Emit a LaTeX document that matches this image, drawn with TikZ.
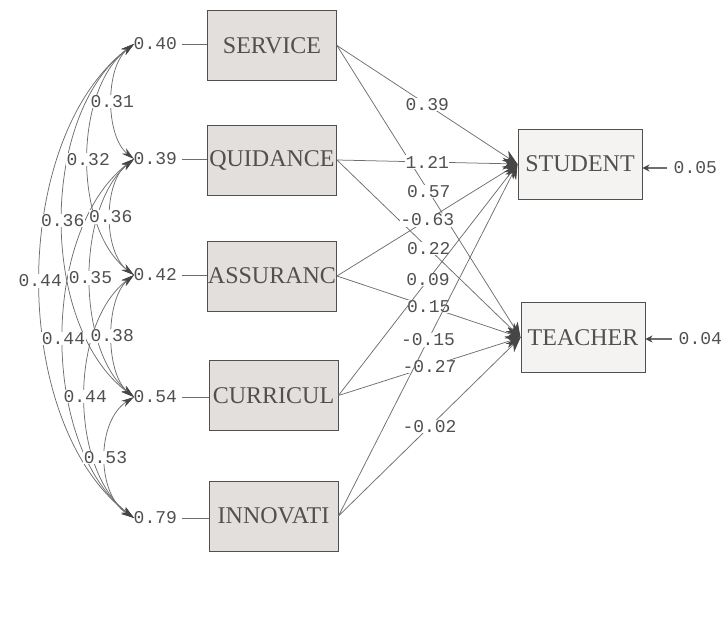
\documentclass[tikz,border=0pt]{standalone}
\usepackage{fontspec}
\setmainfont{Liberation Serif}
\newfontfamily\monofont{Liberation Mono}
\usetikzlibrary{arrows.meta}
\definecolor{ink}{RGB}{80,80,80}
\definecolor{tipc}{RGB}{70,70,70}
\definecolor{boxfill}{RGB}{226,223,220}
\definecolor{boxfillb}{RGB}{245,243,241}
\definecolor{linec}{RGB}{110,110,110}
\begin{document}
\begin{tikzpicture}[x=1pt,y=-1pt,
  var/.style={draw=ink, fill=boxfill, minimum width=129pt, minimum height=70pt, inner sep=0pt,
              font=\fontsize{24}{24}\selectfont, text=ink, line width=0.9pt},
  endo/.style={var, fill=boxfillb, minimum width=124pt},
  num/.style={font=\monofont\fontsize{18}{18}\selectfont, text=ink, inner sep=0.5pt},
  numw/.style={num, fill=white},
  conn/.style={draw=linec, line width=0.75pt},
  pth/.style={conn, -{Stealth[length=15pt,width=12pt,color=tipc]}},
  cov/.style={conn, {Stealth[length=13pt,width=7pt,color=tipc]}-{Stealth[length=13pt,width=7pt,color=tipc]}},
  errarr/.style={conn, line width=1.4pt, -{Stealth[length=7pt,width=7pt,color=tipc]}},
]
\useasboundingbox (0,0) rectangle (728,618);

% variables
\node[var] (serv) at (272,45.5) {SERVICE};
\node[var] (quid) at (272,160) {QUIDANCE};
\node[var] (assu) at (272,276) {ASSURANC};
\node[var] (curr) at (273.5,395.5) {CURRICUL};
\node[var] (inno) at (273.5,516) {INNOVATI};
\node[endo] (stud) at (580,164) {STUDENT};
\node[endo] (teach) at (583,337.5) {TEACHER};

% error variances of the exogenous variables
\node[num, anchor=west] (d1) at (133,44) {0.40};
\node[num, anchor=west] (d2) at (133,159) {0.39};
\node[num, anchor=west] (d3) at (133,275) {0.42};
\node[num, anchor=west] (d4) at (133,397) {0.54};
\node[num, anchor=west] (d5) at (133,518) {0.79};
\foreach \d/\v in {d1/serv,d2/quid,d3/assu,d4/curr,d5/inno}
  \draw[conn, line width=0.9pt] ([xshift=4pt]\d.east) -- (\d.east -| \v.west);

\coordinate (c1) at (134,44);
\coordinate (c2) at (134,159);
\coordinate (c3) at (134,275);
\coordinate (c4) at (134,397);
\coordinate (c5) at (134,518);

% covariances
\draw[cov] (c1) .. controls (105,67) and (105,136) .. coordinate[pos=0.5] (m12) (c2);
\draw[cov] (c1) .. controls (73,90) and (73,229) .. coordinate[pos=0.5] (m13) (c3);
\draw[cov] (c1) .. controls (39,115) and (39,326) .. coordinate[pos=0.5] (m14) (c4);
\draw[cov] (c1) .. controls (9,139) and (9,423) .. coordinate[pos=0.5] (m15) (c5);
\draw[cov] (c2) .. controls (103,182) and (103,252) .. coordinate[pos=0.5] (m23) (c3);
\draw[cov] (c2) .. controls (76,207) and (76,349) .. coordinate[pos=0.5] (m24) (c4);
\draw[cov] (c2) .. controls (40,231) and (40,446) .. coordinate[pos=0.5] (m25) (c5);
\draw[cov] (c3) .. controls (105,299) and (105,373) .. coordinate[pos=0.5] (m34) (c4);
\draw[cov] (c3) .. controls (69,324) and (69,469) .. coordinate[pos=0.5] (m35) (c5);
\draw[cov] (c4) .. controls (96,421) and (96,494) .. coordinate[pos=0.5] (m45) (c5);

\node[numw] at (m23) {0.36};
\node[numw] at (m24) {0.35};
\node[numw] at (m34) {0.38};
\node[numw] at (m12) {0.31};
\node[numw] at (m13) {0.32};
\node[numw] at (m14) {0.36};
\node[numw] at (m15) {0.44};
\node[numw] at (m25) {0.44};
\node[numw] at (m35) {0.44};
\node[numw] at (m45) {0.53};

% structural paths
\draw[pth] (serv.east) -- node[numw] {0.39} (stud.west);
\draw[pth] (serv.east) -- node[numw] {0.57} (teach.west);
\draw[pth] (quid.east) -- node[numw] {1.21} (stud.west);
\draw[pth] (quid.east) -- node[numw] {0.22} (teach.west);
\draw[pth] (assu.east) -- node[numw] {-0.63} (stud.west);
\draw[pth] (assu.east) -- node[numw] {0.15} (teach.west);
\draw[pth] (curr.east) -- node[numw] {0.09} (stud.west);
\draw[pth] (curr.east) -- node[numw] {-0.27} (teach.west);
\draw[pth] (inno.east) -- node[numw] {-0.15} (stud.west);
\draw[pth] (inno.east) -- node[numw] {-0.02} (teach.west);

% error variances of the endogenous variables
\node[num, anchor=west] (z1) at (673,168) {0.05};
\node[num, anchor=west] (z2) at (678,339) {0.04};
\draw[errarr] ([xshift=-6pt]z1.west) -- (z1.west -| stud.east);
\draw[errarr] ([xshift=-6pt]z2.west) -- (z2.west -| teach.east);
\end{tikzpicture}
\end{document}
